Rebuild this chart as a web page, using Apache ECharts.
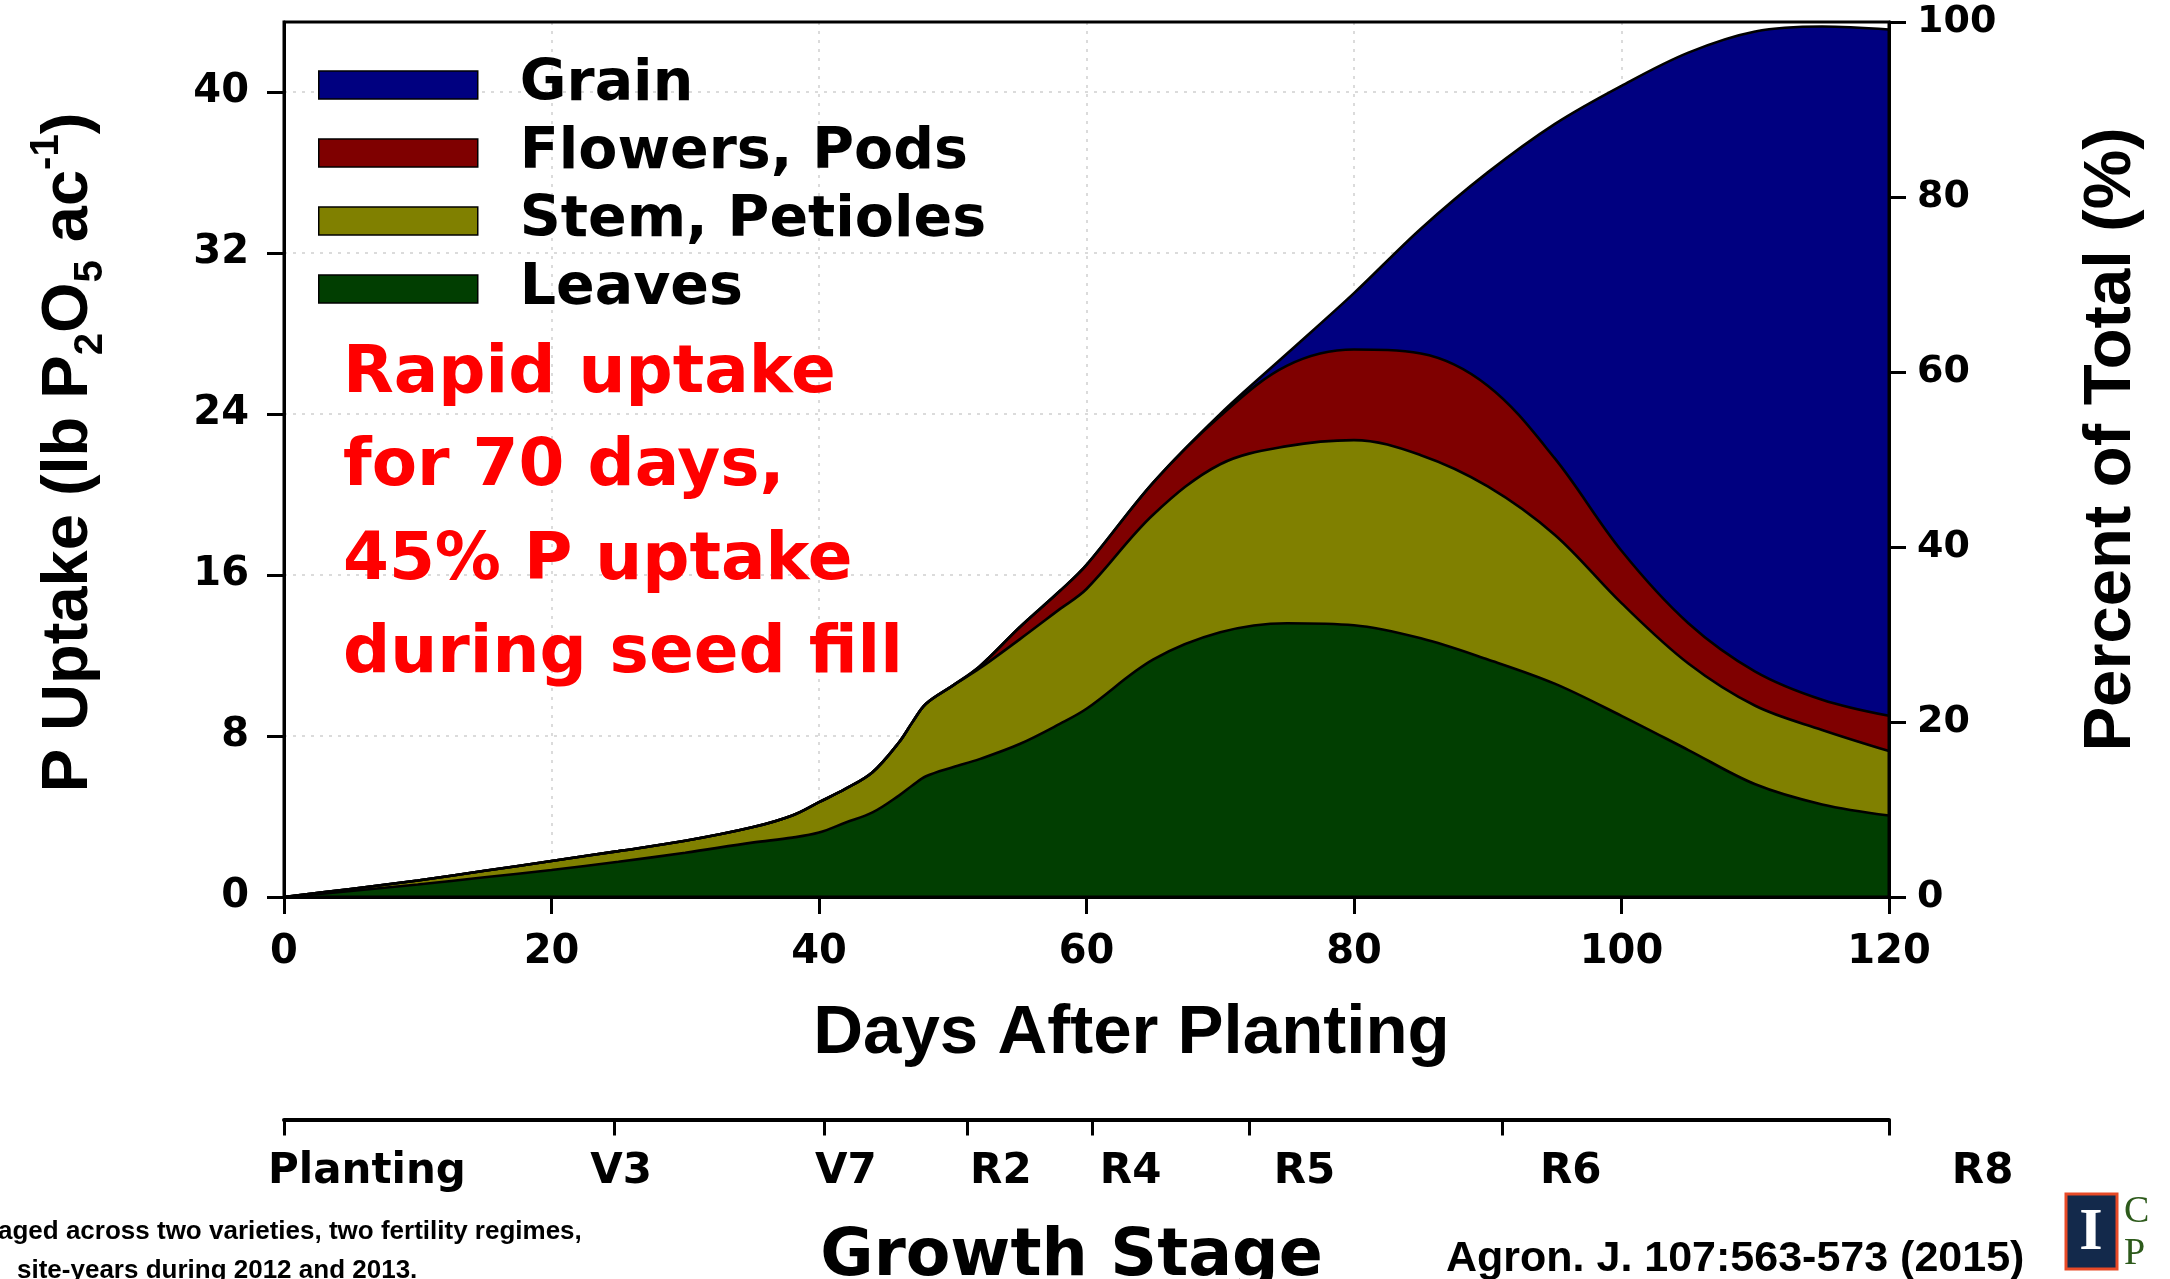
<!DOCTYPE html>
<html>
<head>
<meta charset="utf-8">
<script src="https://cdn.jsdelivr.net/npm/echarts@6/dist/echarts.min.js"></script>
<style>
html,body{margin:0;padding:0;background:#ffffff;}
#chart{width:2170px;height:1279px;}
</style>
</head>
<body>
<div id="chart"></div>
<script>
// ---- data (cumulative boundaries, lb P2O5/ac) ----
const days       = [0, 5, 10, 15, 20, 25, 30, 35, 38, 40, 42, 44, 46, 47, 48, 50, 52, 55, 58, 60, 65, 70, 75, 80, 85, 90, 95, 100, 105, 110, 115, 120];
const leavesTop  = [0, 0.3, 0.62, 0.98, 1.34, 1.75, 2.2, 2.7, 2.95, 3.2, 3.7, 4.2, 5.05, 5.55, 6.0, 6.45, 6.85, 7.6, 8.6, 9.35, 11.8, 13.15, 13.6, 13.5, 12.85, 11.8, 10.6, 9.0, 7.3, 5.6, 4.6, 4.05];
const stemTop    = [0, 0.4, 0.82, 1.3, 1.79, 2.28, 2.79, 3.46, 4.05, 4.71, 5.38, 6.2, 7.7, 8.7, 9.6, 10.5, 11.35, 12.8, 14.3, 15.3, 19.0, 21.5, 22.4, 22.7, 21.95, 20.4, 18.0, 14.6, 11.6, 9.5, 8.3, 7.25];
const flowersTop = [0, 0.4, 0.82, 1.3, 1.79, 2.28, 2.79, 3.46, 4.05, 4.71, 5.38, 6.2, 7.7, 8.7, 9.6, 10.5, 11.45, 13.4, 15.2, 16.5, 20.6, 23.9, 26.4, 27.2, 27.0, 25.4, 21.8, 17.2, 13.6, 11.2, 9.8, 9.0];
const grainTop   = [0, 0.4, 0.82, 1.3, 1.79, 2.28, 2.79, 3.46, 4.05, 4.71, 5.38, 6.2, 7.7, 8.7, 9.6, 10.5, 11.45, 13.4, 15.2, 16.5, 20.6, 24.0, 27.0, 30.0, 33.2, 36.0, 38.4, 40.3, 41.95, 43.0, 43.25, 43.1];

const seriesNames = ['Grain', 'Flowers, Pods', 'Stem, Petioles', 'Leaves'];
const leftTicks   = [0, 8, 16, 24, 32, 40];

const stageNames     = ['Planting', 'V3', 'V7', 'R2', 'R4', 'R5', 'R6', 'R8'];
const stageTickDays  = [0, 24.7, 40.4, 51.1, 60.4, 72.2, 91.1, 120];
const stageLabelDays = [6.2, 25.2, 42, 53.6, 63.3, 76.3, 96.2, 127];

const annotationLines = ['Rapid uptake', 'for 70 days,', '45% P uptake', 'during seed fill'];
const footLeftLines   = ['aged across two varieties, two fertility regimes,', 'site-years during 2012 and 2013.'];
const citation        = 'Agron. J. 107:563-573 (2015)';

// ---- styling ----
const fillColors = {'Grain': '#000080', 'Flowers, Pods': '#7f0000', 'Stem, Petioles': '#808000', 'Leaves': '#013e01'};
const SANS = 'Liberation Sans';
const WIDE = 'DejaVu Sans';

function areaSeries(name, top) {
  const c = fillColors[name];
  return {
    name: name, type: 'line', xAxisIndex: 0, yAxisIndex: 0,
    data: days.map((d, i) => [d, top[i]]),
    smooth: 0.35, symbol: 'none', silent: true,
    lineStyle: {color: '#000', width: 2.6},
    areaStyle: {color: c, opacity: 1, origin: 'start'},
    itemStyle: {color: c},
    emphasis: {disabled: true}
  };
}

const axisLineStyle = {color: '#000', width: 3};
const gridLine = {show: true, lineStyle: {color: '#cfcfcf', width: 1.5, type: [3, 6]}};

const chart = echarts.init(document.getElementById('chart'), null, {renderer: 'canvas'});
chart.setOption({
  animation: false,
  backgroundColor: '#ffffff',
  grid: [
    {left: 284, right: 281, top: 22, bottom: 382, show: true, borderColor: '#000', borderWidth: 3, backgroundColor: 'transparent', z: 10},
    {left: 284, right: 281, top: 1119, height: 2}
  ],
  legend: {
    orient: 'vertical', left: 313, top: 49,
    itemWidth: 159, itemHeight: 28, itemGap: 6,
    icon: 'rect',
    itemStyle: {borderColor: '#000', borderWidth: 1.5},
    data: seriesNames.map(n => ({name: n, itemStyle: {color: fillColors[n], borderColor: '#000', borderWidth: 1.5}})),
    textStyle: {fontFamily: WIDE, fontWeight: 'bold', fontSize: 57, lineHeight: 62, color: '#000', padding: [0, 0, 0, 37]},
    selectedMode: false
  },
  xAxis: [
    {
      gridIndex: 0, type: 'value', min: 0, max: 120, interval: 20,
      axisLine: {show: true, lineStyle: axisLineStyle},
      axisTick: {show: true, length: 17, lineStyle: axisLineStyle},
      axisLabel: {margin: 36, fontFamily: WIDE, fontWeight: 'bold', fontSize: 40, color: '#000'},
      splitLine: gridLine,
      name: 'Days After Planting', nameLocation: 'middle', nameGap: 102,
      nameTextStyle: {fontFamily: SANS, fontWeight: 'bold', fontSize: 69, color: '#000', padding: [0, 0, 0, 90]}
    },
    {
      gridIndex: 1, type: 'value', min: 0, max: 120, position: 'bottom',
      axisLine: {show: true, lineStyle: {color: '#000', width: 4}},
      axisTick: {show: true, customValues: stageTickDays, length: 16, lineStyle: axisLineStyle},
      axisLabel: {show: false},
      splitLine: {show: false},
      name: 'Growth Stage', nameLocation: 'middle', nameGap: 106,
      nameTextStyle: {fontFamily: WIDE, fontWeight: 'bold', fontSize: 65, color: '#000', padding: [0, 30, 0, 0]}
    }
  ],
  yAxis: [
    {
      gridIndex: 0, type: 'value', position: 'left', min: 0, max: 43.47, interval: 8,
      axisLine: {show: true, lineStyle: axisLineStyle},
      axisTick: {show: true, length: 17, customValues: leftTicks, lineStyle: axisLineStyle},
      axisLabel: {
        customValues: leftTicks, margin: 35, fontFamily: WIDE, fontWeight: 'bold', fontSize: 40, color: '#000',
        formatter: v => (Math.abs(v / 8 - Math.round(v / 8)) < 1e-6 ? String(v) : '')
      },
      splitLine: gridLine,
      name: '{m|P Uptake (lb P}{s|2}{m|O}{s|5}{m| ac}{p|-1}{m|)}',
      nameLocation: 'middle', nameRotate: 90, nameGap: 173,
      nameTextStyle: {
        fontFamily: SANS, fontWeight: 'bold', fontSize: 65, color: '#000', padding: [0, 0, 0, 14],
        rich: {
          m: {fontFamily: SANS, fontWeight: 'bold', fontSize: 65, lineHeight: 84, verticalAlign: 'middle', color: '#000'},
          s: {fontFamily: SANS, fontWeight: 'bold', fontSize: 40, lineHeight: 44, verticalAlign: 'bottom', color: '#000'},
          p: {fontFamily: SANS, fontWeight: 'bold', fontSize: 40, lineHeight: 44, verticalAlign: 'top', color: '#000'}
        }
      }
    },
    {
      gridIndex: 0, type: 'value', position: 'right', min: 0, max: 100, interval: 20,
      axisLine: {show: true, lineStyle: axisLineStyle},
      axisTick: {show: true, length: 17, lineStyle: axisLineStyle},
      axisLabel: {margin: 28, fontFamily: WIDE, fontWeight: 'bold', fontSize: 38, color: '#000'},
      splitLine: {show: false},
      name: 'Percent of Total (%)', nameLocation: 'middle', nameRotate: 90, nameGap: 189,
      nameTextStyle: {fontFamily: SANS, fontWeight: 'bold', fontSize: 67, color: '#000', padding: [0, 0, 0, 40]}
    },
    {gridIndex: 1, type: 'value', min: 0, max: 1, show: false}
  ],
  series: [
    areaSeries('Grain', grainTop),
    areaSeries('Flowers, Pods', flowersTop),
    areaSeries('Stem, Petioles', stemTop),
    areaSeries('Leaves', leavesTop),
    {
      type: 'scatter', xAxisIndex: 1, yAxisIndex: 2, silent: true, clip: false,
      data: stageNames.map((n, i) => ({name: n, value: [stageLabelDays[i], 0]})),
      symbolSize: 1, itemStyle: {color: 'rgba(0,0,0,0)', opacity: 1},
      label: {show: true, position: 'inside', offset: [0, 53], formatter: '{b}', opacity: 1,
              fontFamily: WIDE, fontWeight: 'bold', fontSize: 42, color: '#000000'}
    }
  ],
  graphic: [
    {type: 'text', x: 343, y: 328, z: 100, silent: true,
     style: {text: annotationLines.join('\n'), fill: '#ff0000', font: 'bold 66px "DejaVu Sans"', lineHeight: 93.5, textAlign: 'left', textVerticalAlign: 'top'}},
    {type: 'text', x: -2, y: 1232, z: 100, silent: true,
     style: {text: footLeftLines[0], fill: '#000', font: 'bold 26px "Liberation Sans"', textAlign: 'left', textVerticalAlign: 'middle'}},
    {type: 'text', x: 17, y: 1271, z: 100, silent: true,
     style: {text: footLeftLines[1], fill: '#000', font: 'bold 26px "Liberation Sans"', textAlign: 'left', textVerticalAlign: 'middle'}},
    {type: 'text', x: 1446, y: 1259, z: 100, silent: true,
     style: {text: citation, fill: '#000', font: 'bold 43px "Liberation Sans"', textAlign: 'left', textVerticalAlign: 'middle'}},
    {type: 'rect', z: 100, silent: true, shape: {x: 2066, y: 1194, width: 51, height: 75},
     style: {fill: '#13294b', stroke: '#e84a27', lineWidth: 3}},
    {type: 'text', x: 2091, y: 1233, z: 101, silent: true,
     style: {text: 'I', fill: '#ffffff', font: 'bold 60px "Liberation Serif"', textAlign: 'center', textVerticalAlign: 'middle'}},
    {type: 'text', x: 2124, y: 1212, z: 100, silent: true,
     style: {text: 'C', fill: '#2d5a1b', font: '38px "Liberation Serif"', textAlign: 'left', textVerticalAlign: 'middle'}},
    {type: 'text', x: 2124, y: 1254, z: 100, silent: true,
     style: {text: 'P', fill: '#2d5a1b', font: '38px "Liberation Serif"', textAlign: 'left', textVerticalAlign: 'middle'}}
  ]
});
</script>
</body>
</html>
